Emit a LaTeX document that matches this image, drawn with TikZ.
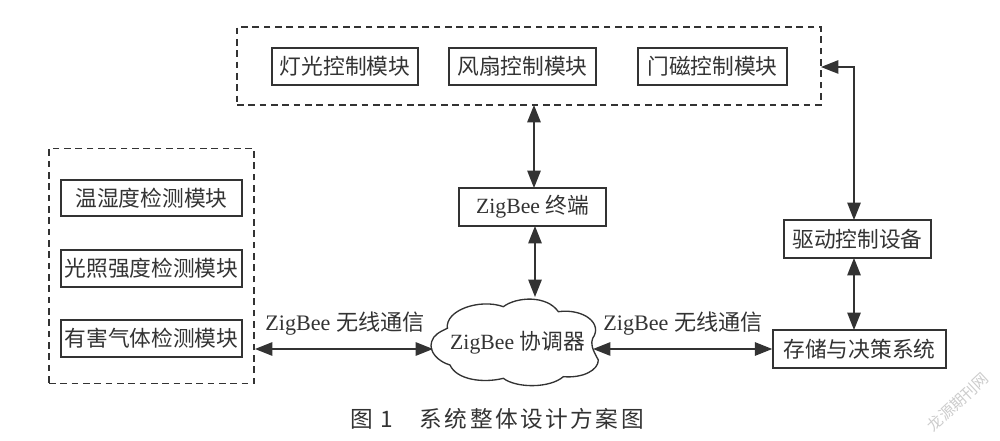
\documentclass[tikz,border=0pt]{standalone}
\usepackage{fontspec}
\setmainfont{Liberation Serif}
\newfontfamily\cjk{Noto Sans CJK SC}
\usetikzlibrary{arrows.meta}
\definecolor{ink}{HTML}{333333}
\tikzset{
  x=0.75pt,y=-0.75pt,
  every node/.style={font=\fontsize{16.3pt}{18pt}\selectfont,text=ink,inner sep=0pt},
  pxsize/.style 2 args={minimum width=#1*0.75pt,minimum height=#2*0.75pt},
  modbox/.style={draw=ink,line width=1.05pt,fill=white},
  frame/.style={draw=ink,line width=1pt,dash pattern=on 5pt off 3.5pt},
  link/.style={draw=ink,line width=1.2pt,{Triangle[length=13pt,width=10pt]}-{Triangle[length=13pt,width=10pt]}},
}
\begin{document}
\begin{tikzpicture}
\useasboundingbox (0,0) rectangle (1000,441);
% dashed frames
\node[frame,pxsize={584}{78}] (top) at (529,66) {};
\node[frame,pxsize={205}{235}] (left) at (151.5,266) {};
% top modules
\node[modbox,pxsize={146}{37}] (lamp) at (345,66.5) {\cjk 灯光控制模块};
\node[modbox,pxsize={147}{37}] (fan) at (522.5,66.5) {\cjk 风扇控制模块};
\node[modbox,pxsize={149}{37}] (door) at (712.5,66.5) {\cjk 门磁控制模块};
% left modules
\node[modbox,pxsize={181}{36}] (hum) at (151.5,198) {\cjk 温湿度检测模块};
\node[modbox,pxsize={181}{37}] (light) at (151.5,268.5) {\cjk 光照强度检测模块};
\node[modbox,pxsize={181}{37}] (gas) at (151.5,338.5) {\cjk 有害气体检测模块};
% terminal, drive, storage
\node[modbox,pxsize={147}{38}] (term) at (532.5,207) {ZigBee {\cjk 终端}};
\node[modbox,pxsize={147}{38}] (drive) at (857.5,239) {\cjk 驱动控制设备};
\node[modbox,pxsize={173}{38}] (store) at (859.5,349) {\cjk 存储与决策系统};
% cloud
\begin{scope}[shift={(250,280)},x=0.25pt,y=-0.25pt]
\draw[draw=ink,line width=1pt,fill=white]
  (545,185) .. controls (550,165) and (570,155) .. (592,145)
  .. controls (585,90) and (690,55) .. (760,80)
  .. controls (800,50) and (890,45) .. (925,95)
  .. controls (1000,85) and (1060,130) .. (1028,175)
  .. controls (1022,190) and (1025,205) .. (1045,240)
  .. controls (1045,270) and (1000,295) .. (940,290)
  .. controls (900,325) and (800,325) .. (760,295)
  .. controls (700,310) and (620,300) .. (600,255)
  .. controls (565,245) and (535,215) .. (545,185) -- cycle;
\end{scope}
\node (coord) at (517.5,343) {ZigBee {\cjk 协调器}};
\coordinate (cloudL) at (433,349);
\coordinate (cloudR) at (593,349);
\coordinate (cloudT) at (535,297);
\coordinate (termB) at (535,226);
\coordinate (termT) at (534,188);
\coordinate (topB) at (534,105);
\coordinate (topR) at (821,67);
\coordinate (corner) at (854,67);
\coordinate (driveT) at (854,220);
\coordinate (driveB) at (854,258);
\coordinate (storeT) at (854,330);
\coordinate (leftR) at (255,349);
% connectors
\draw[link] (topB) -- (termT);
\draw[link] (termB) -- (cloudT);
\draw[link] (topR) -- (corner) -- (driveT);
\draw[link] (driveB) -- (storeT);
\draw[link] (leftR) -- (cloudL);
\draw[link] (cloudR) -- (store.west);
% labels
\node[font=\fontsize{16.6pt}{18pt}\selectfont] (la) at (345,324) {ZigBee {\cjk 无线通信}};
\node[font=\fontsize{16.6pt}{18pt}\selectfont] (lb) at (683,324) {ZigBee {\cjk 无线通信}};
\node[font=\fontsize{17pt}{19pt}\selectfont] (cap) at (497,419) {\cjk\addfontfeature{LetterSpace=11}图 1\hspace{20pt}系统整体设计方案图};
\node[rotate=43,text=black!20,font=\fontsize{11.5pt}{13pt}\selectfont] (wm) at (958,402) {\cjk 龙源期刊网};
\end{tikzpicture}
\end{document}
